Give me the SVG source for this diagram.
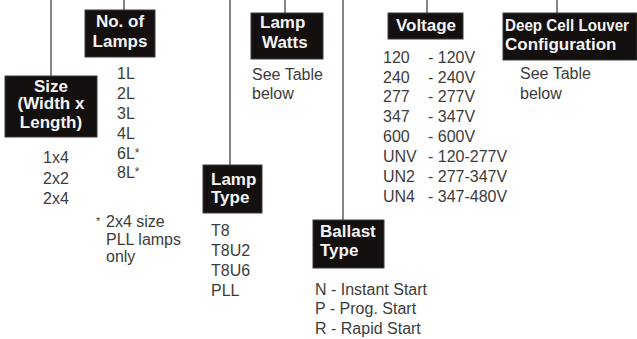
<svg xmlns="http://www.w3.org/2000/svg" width="637" height="339" viewBox="0 0 637 339">
<style>
.box{fill:#141010;stroke:#3c3838;stroke-width:1}
.hd{font-family:"Liberation Sans",Arial,sans-serif;font-weight:bold;fill:#f4f4f4;font-size:17px}
.v{font-family:"Liberation Sans",Arial,sans-serif;fill:#3c3c3c;font-size:16px}
.ln{stroke:#858585;stroke-width:2;fill:none}
</style>
<rect width="637" height="339" fill="#ffffff"/>
<g id="connectors">
<line class="ln" x1="51" y1="0" x2="51" y2="76"/>
<line class="ln" x1="124" y1="0" x2="124" y2="10"/>
<line class="ln" x1="230" y1="0" x2="230" y2="165"/>
<line class="ln" x1="285" y1="0" x2="285" y2="13"/>
<line class="ln" x1="343" y1="0" x2="343" y2="220"/>
<line class="ln" x1="427" y1="0" x2="427" y2="13"/>
<line class="ln" x1="557" y1="0" x2="557" y2="13"/>
</g>
<g id="size">
<rect class="box" x="5" y="76" width="92" height="61"/>
<text class="hd" x="51" y="92" text-anchor="middle" font-size="16.5">Size</text>
<text class="hd" x="51" y="109" text-anchor="middle" font-size="12.5">(Width x</text>
<text class="hd" x="51" y="128" text-anchor="middle" font-size="12.5">Length)</text>
<text class="v" x="56" y="163" text-anchor="middle">1x4</text>
<text class="v" x="56" y="184" text-anchor="middle">2x2</text>
<text class="v" x="56" y="204" text-anchor="middle">2x4</text>
</g>
<g id="lamps">
<rect class="box" x="85" y="10" width="70" height="47"/>
<text class="hd" x="120" y="27" text-anchor="middle">No. of</text>
<text class="hd" x="120" y="47" text-anchor="middle">Lamps</text>
<text class="v" x="117" y="79">1L</text>
<text class="v" x="117" y="99">2L</text>
<text class="v" x="117" y="119">3L</text>
<text class="v" x="117" y="139">4L</text>
<text class="v" x="117" y="159">6L<tspan font-size="12" dy="-2">*</tspan></text>
<text class="v" x="117" y="178">8L<tspan font-size="12" dy="-2">*</tspan></text>
<text class="v" x="96" y="227" font-size="14"><tspan font-size="11" dy="-2">*</tspan><tspan x="106" dy="2">2x4 size</tspan></text>
<text class="v" x="106" y="245" font-size="14">PLL lamps</text>
<text class="v" x="106" y="262" font-size="14">only</text>
</g>
<g id="lamp-type">
<rect class="box" x="203" y="165" width="59" height="48"/>
<text class="hd" x="211" y="185">Lamp</text>
<text class="hd" x="211" y="203">Type</text>
<text class="v" x="211" y="236">T8</text>
<text class="v" x="211" y="256">T8U2</text>
<text class="v" x="211" y="276">T8U6</text>
<text class="v" x="211" y="296">PLL</text>
</g>
<g id="lamp-watts">
<rect class="box" x="251" y="13" width="72" height="46"/>
<text class="hd" x="260" y="28">Lamp</text>
<text class="hd" x="262" y="48">Watts</text>
<text class="v" x="252" y="80" font-size="16.7">See Table</text>
<text class="v" x="252" y="99" font-size="16.7">below</text>
</g>
<g id="ballast-type">
<rect class="box" x="313" y="220" width="71" height="48"/>
<text class="hd" x="320" y="237">Ballast</text>
<text class="hd" x="320" y="256">Type</text>
<text class="v" x="315" y="295" font-size="17">N - Instant Start</text>
<text class="v" x="315" y="314" font-size="17">P - Prog. Start</text>
<text class="v" x="315" y="334" font-size="17">R - Rapid Start</text>
</g>
<g id="voltage">
<rect class="box" x="388" y="13" width="75" height="26"/>
<text class="hd" x="426" y="31" text-anchor="middle">Voltage</text>
<text class="v" x="383" y="63">120</text><text class="v" x="428" y="63">- 120V</text>
<text class="v" x="383" y="83">240</text><text class="v" x="428" y="83">- 240V</text>
<text class="v" x="383" y="102">277</text><text class="v" x="428" y="102">- 277V</text>
<text class="v" x="383" y="122">347</text><text class="v" x="428" y="122">- 347V</text>
<text class="v" x="383" y="142">600</text><text class="v" x="428" y="142">- 600V</text>
<text class="v" x="383" y="162">UNV</text><text class="v" x="428" y="162">- 120-277V</text>
<text class="v" x="383" y="182">UN2</text><text class="v" x="428" y="182">- 277-347V</text>
<text class="v" x="383" y="202">UN4</text><text class="v" x="428" y="202">- 347-480V</text>
</g>
<g id="louver">
<rect class="box" x="503" y="13" width="134" height="47"/>
<text class="hd" x="505" y="31" font-size="14.5" textLength="124" lengthAdjust="spacingAndGlyphs">Deep Cell Louver</text>
<text class="hd" x="505" y="50" font-size="15.5">Configuration</text>
<text class="v" x="520" y="79" font-size="15">See Table</text>
<text class="v" x="520" y="99" font-size="15">below</text>
</g>
</svg>
